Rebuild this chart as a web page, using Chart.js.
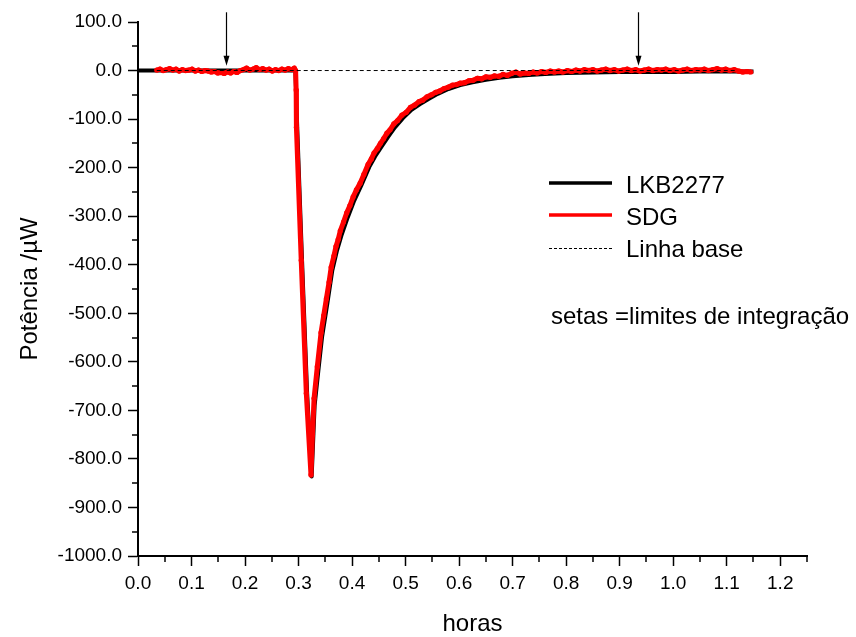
<!DOCTYPE html>
<html>
<head>
<meta charset="utf-8">
<title>Potência x horas</title>
<script src="https://cdn.jsdelivr.net/npm/chart.js@4.4.1/dist/chart.umd.min.js"></script>
<style>
  html, body { margin: 0; padding: 0; background: #fff; }
  #box { width: 856px; height: 637px; }
</style>
</head>
<body>
<div id="box"><canvas id="myChart"></canvas></div>
<script>
// SDG (red) - tempo em horas / potência em µW
const sdgHoras = [
    0.035, 0.041, 0.047, 0.053, 0.059, 0.065, 0.071, 0.077, 0.083, 0.089,
    0.095, 0.101, 0.107, 0.113, 0.119, 0.125, 0.131, 0.137, 0.143, 0.149,
    0.155, 0.161, 0.167, 0.173, 0.179, 0.185, 0.191, 0.197, 0.203, 0.209,
    0.215, 0.221, 0.227, 0.233, 0.239, 0.245, 0.251, 0.257, 0.263, 0.269,
    0.275, 0.281, 0.287, 0.292, 0.2945, 0.2955, 0.296, 0.305, 0.3145, 0.3232,
    0.326, 0.329, 0.335, 0.342, 0.347, 0.352, 0.357, 0.361, 0.366, 0.370,
    0.374, 0.378, 0.384, 0.390, 0.396, 0.402, 0.408, 0.415, 0.422, 0.430,
    0.436, 0.441, 0.447, 0.453, 0.459, 0.465, 0.471, 0.478, 0.485, 0.493,
    0.501, 0.509, 0.517, 0.525, 0.532, 0.540, 0.548, 0.556, 0.564, 0.572,
    0.580, 0.588, 0.595, 0.602, 0.610, 0.618, 0.626, 0.634, 0.642, 0.650,
    0.658, 0.666, 0.674, 0.682, 0.690, 0.698, 0.706, 0.714, 0.722, 0.730,
    0.738, 0.746, 0.754, 0.762, 0.770, 0.778, 0.786, 0.794, 0.802, 0.810,
    0.818, 0.826, 0.834, 0.842, 0.850, 0.858, 0.866, 0.874, 0.882, 0.890,
    0.898, 0.906, 0.914, 0.922, 0.930, 0.938, 0.946, 0.954, 0.962, 0.970,
    0.978, 0.986, 0.994, 1.002, 1.010, 1.018, 1.026, 1.034, 1.042, 1.050,
    1.058, 1.066, 1.074, 1.082, 1.090, 1.098, 1.106, 1.114, 1.122, 1.130,
    1.138, 1.145
];
const sdgPotencia = [
    1, 3, 0, 2, 4, 1, 3, -1, 2, 0,
    1, 3, -1, 1, -2, 0, -1, -3, -2, -5,
    -4, -6, -3, -5, -2, -4, 0, 2, 5, 1,
    3, 6, 2, 4, 1, 3, -1, 2, 0, 3,
    1, 4, 2, 5, 0, -40, -117, -391, -665, -833,
    -750, -675, -610, -540, -505, -470, -436, -405, -382, -362,
    -348, -330, -312, -293, -278, -260, -246, -232, -214, -193,
    -182, -170, -161, -150, -140, -129, -122, -110, -103, -92,
    -86, -76, -71, -64, -61, -54, -50, -45, -42, -37,
    -34, -30, -29, -26, -25, -21, -20, -16, -17, -13,
    -14, -11, -12, -8, -10, -6, -3, -7, -5, -6,
    -3, -5, -2, -4, -1, -3, -1, -3, 0, -2,
    1, -1, 2, 0, 2, -1, 1, 3, 0, 2,
    -1, 1, 3, 0, 2, -1, 1, 3, 0, 2,
    1, 3, 0, 2, -1, 1, 3, 0, 2, 1,
    3, 0, 2, 4, 1, 3, 0, 2, -1, -3,
    -2, -3
];

// LKB2277 (black)
const lkbHoras = [
    0, 0.05, 0.1, 0.15, 0.2, 0.25, 0.294, 0.2975, 0.3065, 0.316,
    0.3245, 0.330, 0.337, 0.344, 0.354, 0.363, 0.372, 0.380, 0.392, 0.404,
    0.417, 0.432, 0.443, 0.455, 0.467, 0.480, 0.495, 0.511, 0.527, 0.542,
    0.560, 0.580, 0.602, 0.625, 0.650, 0.675, 0.700, 0.730, 0.760, 0.800,
    0.850, 0.900, 0.950, 1.000, 1.050, 1.100, 1.150
];
const lkbPotencia = [
    0, 0, 0, 0, 0, 0, 0, -117, -391, -665,
    -836, -690, -618, -548, -478, -412, -370, -340, -302, -268,
    -237, -199, -177, -157, -137, -117, -98, -81, -69, -59,
    -48, -38, -30, -24, -19, -15, -12, -9, -7, -5,
    -4, -3, -3, -3, -2, -2, -2
];

// linha base tracejada
const baseHoras = [0.035, 1.12];
const basePotencia = [0, 0];

// setas = limites de integração
const setasHoras = [0.165, 0.935];
const setaTopo = 120;
const setaPonta = 10;

const legendaTextos = ['LKB2277', 'SDG', 'Linha base'];
const notaTexto = 'setas =limites de integração';

const FONTE = "'Liberation Sans', Arial, Helvetica, sans-serif";
Chart.defaults.font.family = FONTE;
Chart.defaults.color = '#000';

function pares(xs, ys) {
    return xs.map((x, i) => ({ x: x, y: ys[i] }));
}

// minor ticks + arrows + text legend
const extras = {
    id: 'extras',
    afterDraw(chart) {
        const ctx = chart.ctx;
        const xs = chart.scales.x;
        const ys = chart.scales.y;
        const area = chart.chartArea;
        ctx.save();
        ctx.strokeStyle = '#000';
        ctx.lineWidth = 1.5;
        ctx.beginPath();
        for (let v = 0.05; v < 1.26; v += 0.1) {
            const px = Math.round(xs.getPixelForValue(v));
            ctx.moveTo(px, area.bottom);
            ctx.lineTo(px, area.bottom + 6);
        }
        for (let v = -950; v < 100; v += 100) {
            const py = Math.round(ys.getPixelForValue(v));
            ctx.moveTo(area.left, py);
            ctx.lineTo(area.left - 6, py);
        }
        ctx.stroke();

        // arrows
        ctx.fillStyle = '#000';
        ctx.lineWidth = 1.2;
        setasHoras.forEach(h => {
            const px = Math.round(xs.getPixelForValue(h)) + 0.5;
            const top = ys.getPixelForValue(setaTopo);
            const tip = ys.getPixelForValue(setaPonta);
            ctx.beginPath();
            ctx.moveTo(px, top);
            ctx.lineTo(px, tip - 8);
            ctx.stroke();
            ctx.beginPath();
            ctx.moveTo(px - 3, tip - 10);
            ctx.lineTo(px + 3, tip - 10);
            ctx.lineTo(px, tip);
            ctx.closePath();
            ctx.fill();
        });

        // legend
        const lx0 = 549, lx1 = 612, tx = 626;
        const rows = [183, 215, 248];
        ctx.lineCap = 'butt';
        ctx.strokeStyle = '#000';
        ctx.lineWidth = 3.5;
        ctx.beginPath(); ctx.moveTo(lx0, rows[0]); ctx.lineTo(lx1, rows[0]); ctx.stroke();
        ctx.strokeStyle = '#ff0000';
        ctx.beginPath(); ctx.moveTo(lx0, rows[1]); ctx.lineTo(lx1, rows[1]); ctx.stroke();
        ctx.strokeStyle = '#000';
        ctx.lineWidth = 1;
        ctx.setLineDash([3, 2]);
        ctx.beginPath(); ctx.moveTo(lx0, rows[2] + 0.5); ctx.lineTo(lx1, rows[2] + 0.5); ctx.stroke();
        ctx.setLineDash([]);

        ctx.font = '24px ' + FONTE;
        ctx.textBaseline = 'alphabetic';
        ctx.textAlign = 'left';
        ctx.fillText(legendaTextos[0], tx, 193);
        ctx.fillText(legendaTextos[1], tx, 225);
        ctx.fillText(legendaTextos[2], tx, 257);
        ctx.fillText(notaTexto, 551, 324);
        ctx.restore();
    }
};

const ctx = document.getElementById('myChart').getContext('2d');
new Chart(ctx, {
    type: 'line',
    data: {
        datasets: [
            {
                label: 'Linha base',
                data: pares(baseHoras, basePotencia),
                borderColor: '#000',
                borderWidth: 1,
                borderDash: [4, 3],
                pointRadius: 0,
                order: 0
            },
            {
                label: 'SDG',
                data: pares(sdgHoras, sdgPotencia),
                borderColor: '#ff0000',
                backgroundColor: '#ff0000',
                borderWidth: 5,
                pointRadius: 2.6,
                pointBorderWidth: 0,
                borderJoinStyle: 'round',
                order: 1
            },
            {
                label: 'LKB2277',
                data: pares(lkbHoras, lkbPotencia),
                borderColor: '#000',
                borderWidth: 4,
                pointRadius: 0,
                borderJoinStyle: 'round',
                order: 2
            }
        ]
    },
    options: {
        responsive: true,
        maintainAspectRatio: false,
        animation: false,
        layout: { padding: { left: 0, top: 22, right: 49, bottom: 0 } },
        plugins: {
            legend: { display: false },
            tooltip: { enabled: false }
        },
        scales: {
            x: {
                type: 'linear',
                min: 0,
                max: 1.25,
                afterFit(scale) { scale.height = 81; },
                ticks: {
                    stepSize: 0.1,
                    includeBounds: false,
                    autoSkip: false,
                    maxRotation: 0,
                    padding: 6,
                    font: { size: 19 },
                    callback: v => v.toFixed(1)
                },
                grid: {
                    drawOnChartArea: false,
                    tickLength: 10,
                    tickWidth: 1.5,
                    color: '#000'
                },
                border: { color: '#000', width: 2 },
                title: {
                    display: true,
                    text: 'horas',
                    font: { size: 24 },
                    padding: { top: 0, bottom: -2 }
                }
            },
            y: {
                min: -1000,
                max: 100,
                afterFit(scale) { scale.width = 138; },
                ticks: {
                    stepSize: 100,
                    autoSkip: false,
                    padding: 6,
                    font: { size: 19 },
                    callback: v => v.toFixed(1)
                },
                grid: {
                    drawOnChartArea: false,
                    tickLength: 10,
                    tickWidth: 1.5,
                    color: '#000'
                },
                border: { color: '#000', width: 2 },
                title: {
                    display: true,
                    text: 'Potência /µW',
                    font: { size: 24 },
                    padding: { top: 16, bottom: 0 }
                }
            }
        }
    },
    plugins: [extras]
});
</script>
</body>
</html>
